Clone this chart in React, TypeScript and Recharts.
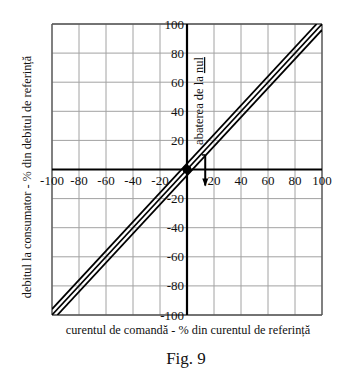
import React from 'react';
import {
  LineChart,
  Line,
  XAxis,
  YAxis,
  CartesianGrid,
  ReferenceLine,
  ReferenceDot,
  Customized,
} from 'recharts';

// tick values shared by both axes (percent of reference)
const TICKS = [-100, -80, -60, -40, -20, 0, 20, 40, 60, 80, 100];

// characteristic: nominal line and the two tolerance limits
const nominalCurve = [{ x: -100, y: -100 }, { x: 100, y: 100 }];
const upperLimit = [{ x: -100, y: -96 }, { x: 96, y: 100 }];
const lowerLimit = [{ x: -96, y: -100 }, { x: 100, y: 96 }];

// "abaterea de la nul" marker (zero offset)
const offsetTick = [{ x: 11, y: 10 }, { x: 13.5, y: 10 }];
const offsetArrow = [{ x: 13.5, y: 10 }, { x: 13.5, y: -11 }];

const W = 355;
const H = 382;
const AXIS_X_H = 20;
const AXIS_Y_W = 20;
const PLOT = { top: 24, right: 33, bottom: 67, left: 52 };
const M = {
  top: PLOT.top,
  right: PLOT.right,
  bottom: PLOT.bottom - AXIS_X_H,
  left: PLOT.left - AXIS_Y_W,
};
const ZERO_X = PLOT.left + (W - PLOT.left - PLOT.right) / 2;
const ZERO_Y = PLOT.top + (H - PLOT.top - PLOT.bottom) / 2;

const FONT = '"Liberation Serif", "DejaVu Serif", serif';

const renderXTick = (props: any) => {
  const { x, payload } = props;
  if (payload.value === 0) return <g />;
  return (
    <text x={x} y={ZERO_Y + 15} textAnchor="middle" fontFamily={FONT} fontSize={13} fill="#111">
      {payload.value}
    </text>
  );
};

const renderYTick = (props: any) => {
  const { y, payload } = props;
  if (payload.value === 0) return <g />;
  return (
    <text x={ZERO_X - 3} y={y + 4.5} textAnchor="end" fontFamily={FONT} fontSize={13} fill="#111">
      {payload.value}
    </text>
  );
};

const ArrowLine = (props: any) => {
  const { x1, y1, x2, y2 } = props;
  return (
    <g>
      <line x1={x1} y1={y1} x2={x2} y2={y2} stroke="#000" strokeWidth={2} />
      <polygon points={`${x2 - 3},${y2 - 7} ${x2 + 3},${y2 - 7} ${x2},${y2 + 1}`} fill="#000" />
    </g>
  );
};

const Texts = () => (
  <g fontFamily={FONT} fill="#111">
    <text x={31} y={177} fontSize={12.3} textAnchor="middle" transform="rotate(-90 31 177)">
      debitul la consumator - % din debitul de referință
    </text>
    <text x={188} y={334} fontSize={12.3} textAnchor="middle">
      curentul de comandă - % din curentul de referință
    </text>
    <text x={186} y={364} fontSize={17} textAnchor="middle">
      Fig. 9
    </text>
    <text x={203} y={101} fontSize={12.5} textAnchor="middle" transform="rotate(-90 203 101)">
      abaterea de la <tspan textDecoration="underline">nul</tspan>
    </text>
  </g>
);

export default function App() {
  return (
    <div style={{ position: 'absolute', left: 0, top: 0, width: W, height: H, background: '#fff' }}>
      <LineChart width={W} height={H} margin={M}>
        <CartesianGrid stroke="#a2a2a2" strokeWidth={1} />
        <XAxis
          type="number"
          dataKey="x"
          domain={[-100, 100]}
          ticks={TICKS}
          interval={0}
          height={AXIS_X_H}
          axisLine={false}
          tickLine={false}
          tick={renderXTick}
          allowDataOverflow
        />
        <YAxis
          type="number"
          dataKey="y"
          domain={[-100, 100]}
          ticks={TICKS}
          interval={0}
          width={AXIS_Y_W}
          axisLine={false}
          tickLine={false}
          tick={renderYTick}
          allowDataOverflow
        />
        <ReferenceLine x={-100} stroke="#555" strokeWidth={1.3} />
        <ReferenceLine x={100} stroke="#555" strokeWidth={1.3} />
        <ReferenceLine y={-100} stroke="#555" strokeWidth={1.3} />
        <ReferenceLine y={100} stroke="#555" strokeWidth={1.3} />
        <ReferenceLine x={0} stroke="#000" strokeWidth={2.2} />
        <ReferenceLine y={0} stroke="#000" strokeWidth={2.2} />
        <Line data={nominalCurve} dataKey="y" stroke="#000" strokeWidth={1.6} dot={false} isAnimationActive={false} />
        <Line data={upperLimit} dataKey="y" stroke="#000" strokeWidth={1.8} dot={false} isAnimationActive={false} />
        <Line data={lowerLimit} dataKey="y" stroke="#000" strokeWidth={1.8} dot={false} isAnimationActive={false} />
        <ReferenceLine segment={offsetTick} stroke="#000" strokeWidth={1.5} ifOverflow="visible" />
        <ReferenceLine segment={offsetArrow} ifOverflow="visible" shape={(p: any) => <ArrowLine {...p} />} />
        <ReferenceDot x={0} y={0} r={4} fill="#000" stroke="#000" isFront />
        <Customized component={Texts} />
      </LineChart>
    </div>
  );
}
